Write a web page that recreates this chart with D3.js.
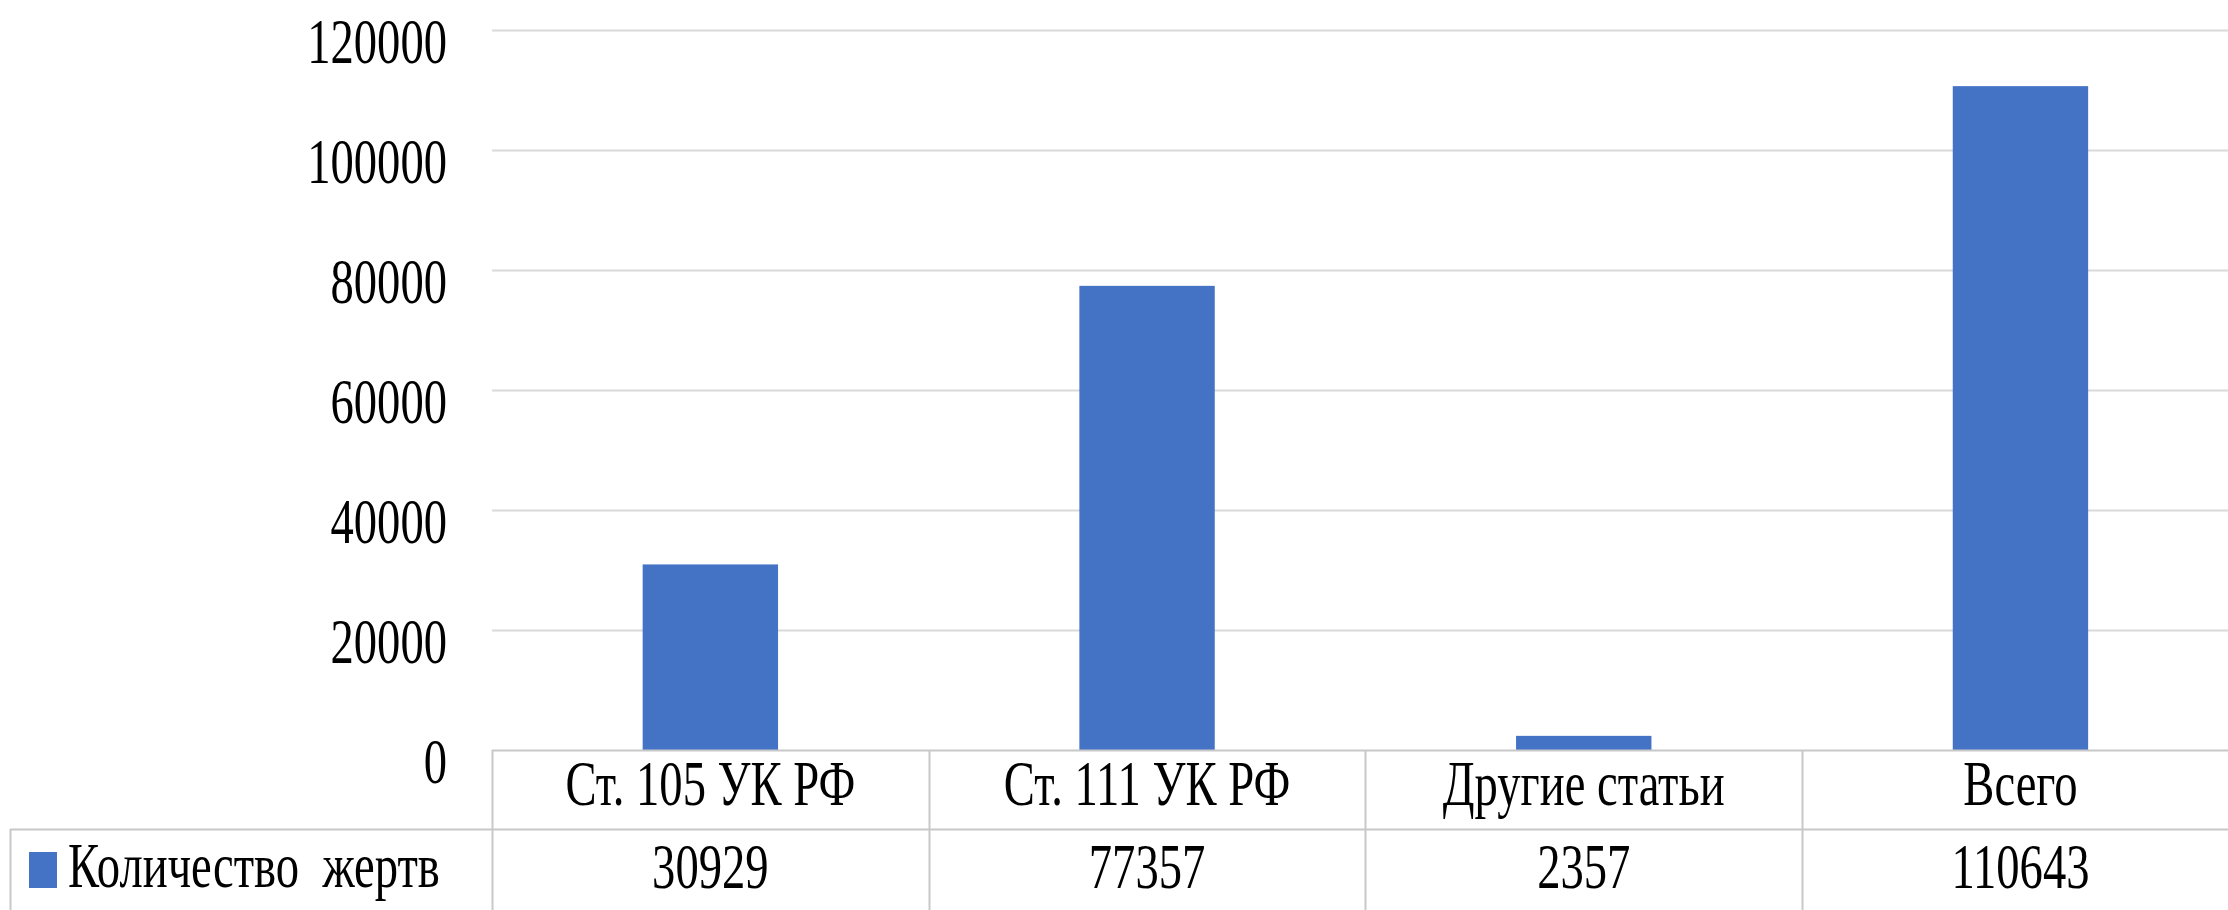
<!DOCTYPE html>
<html>
<head>
<meta charset="utf-8">
<script src="https://cdn.jsdelivr.net/npm/d3@7/dist/d3.min.js"></script>
<style>
  html, body { margin: 0; padding: 0; background: #fff; overflow: hidden; }
  svg { display: block; }
  text { font-family: "Liberation Serif", "DejaVu Serif", serif; fill: #000; }
</style>
</head>
<body>
<svg id="chart" width="2228" height="910"></svg>
<script>
const categories = ["Ст. 105 УК РФ", "Ст. 111 УК РФ", "Другие статьи", "Всего"];
const seriesName = "Количество жертв";
const values = [30929, 77357, 2357, 110643];
const yTicks = [0, 20000, 40000, 60000, 80000, 100000, 120000];

const W = 2228, H = 910;
const svg = d3.select("#chart");

const plotLeft = 492, stepW = 436.7;
const plotTop = 30, plotBottom = 750;
const tableRow1 = 829, tableBottom = 910;
const legendLeft = 10;
const fontSize = 63, sx = 0.74;
const gridColor = "#d9d9d9", tableColor = "#c8c8c8";
const barColor = "#4472C4";

const xCells = d3.scaleBand().domain(categories)
  .range([plotLeft, plotLeft + stepW * categories.length]).padding(0);
const xBars = d3.scaleBand().domain(categories)
  .range([plotLeft, plotLeft + stepW * categories.length])
  .paddingInner(0.69).paddingOuter(0.345);
const y = d3.scaleLinear().domain([0, 120000]).range([plotBottom, plotTop]);

function txt(g, x, yy, s, anchor) {
  return g.append("text")
    .attr("transform", `translate(${x},${yy}) scale(${sx},1)`)
    .attr("text-anchor", anchor)
    .attr("font-size", fontSize)
    .text(s);
}

// gridlines
const grid = svg.append("g");
grid.selectAll("line").data(yTicks.filter(d => d > 0)).join("line")
  .attr("x1", plotLeft).attr("x2", W)
  .attr("y1", d => Math.round(y(d)) + 0.5).attr("y2", d => Math.round(y(d)) + 0.5)
  .attr("stroke", gridColor).attr("stroke-width", 2);

// y axis labels via d3 axis
const yAxis = d3.axisLeft(y).tickValues(yTicks).tickSize(0).tickPadding(0).tickFormat(d3.format("d"));
const ya = svg.append("g").attr("transform", "translate(447,0)").call(yAxis);
ya.select(".domain").remove();
ya.selectAll(".tick text").each(function(d) {
  const t = d3.select(this);
  t.attr("x", null).attr("dy", null)
   .attr("transform", `translate(0,${32}) scale(${sx},1)`)
   .attr("text-anchor", "end")
   .attr("font-size", fontSize)
   .attr("font-family", "Liberation Serif, DejaVu Serif, serif")
   .attr("fill", "#000");
});

// bars
svg.append("g").selectAll("rect").data(values).join("rect")
  .attr("x", (d, i) => xBars(categories[i]))
  .attr("width", xBars.bandwidth())
  .attr("y", d => y(d))
  .attr("height", d => y(0) - y(d))
  .attr("fill", barColor);

// data table lines
const tbl = svg.append("g").attr("stroke", tableColor).attr("stroke-width", 2);
tbl.append("line").attr("x1", plotLeft).attr("x2", W).attr("y1", plotBottom + 0.5).attr("y2", plotBottom + 0.5);
tbl.append("line").attr("x1", legendLeft).attr("x2", W).attr("y1", tableRow1 + 0.5).attr("y2", tableRow1 + 0.5);
tbl.append("line").attr("x1", legendLeft + 0.5).attr("x2", legendLeft + 0.5).attr("y1", tableRow1).attr("y2", tableBottom);
tbl.selectAll("line.col").data(categories).join("line").attr("class", "col")
  .attr("x1", d => Math.round(xCells(d)) + 0.5).attr("x2", d => Math.round(xCells(d)) + 0.5)
  .attr("y1", plotBottom).attr("y2", tableBottom);

// category labels and values
const tg = svg.append("g");
categories.forEach((c, i) => {
  const cx = xCells(c) + xCells.bandwidth() / 2;
  txt(tg, cx, 805, c, "middle");
  txt(tg, cx, 888, String(values[i]), "middle");
});

// legend key
svg.append("rect").attr("x", 29).attr("y", 852).attr("width", 28).attr("height", 36).attr("fill", barColor);
txt(tg, 68, 887, seriesName, "start").attr("word-spacing", 16);
</script>
</body>
</html>
